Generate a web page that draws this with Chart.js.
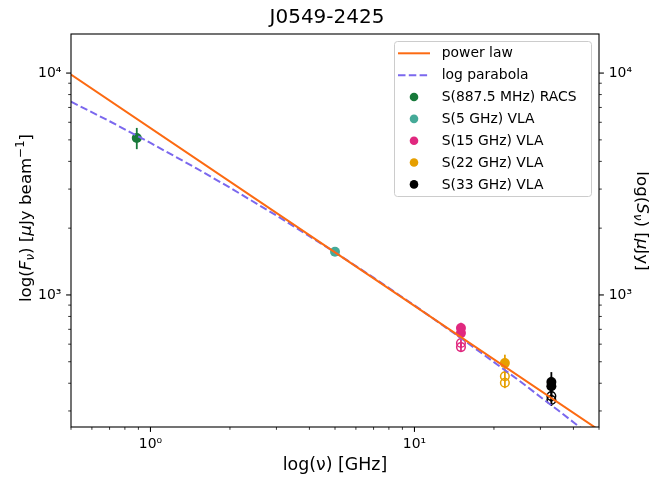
<!DOCTYPE html>
<html><head><meta charset="utf-8">
<script src="https://cdn.jsdelivr.net/npm/chart.js@4/dist/chart.umd.min.js"></script>
<style>html,body{margin:0;padding:0;background:#fff;}</style>
</head><body>
<canvas id="c" width="654" height="482"></canvas>
<script>
// ---------- data ----------
const chartTitle = 'J0549-2425';
const xLimits = [0.5, 50];
const yLimits = [254, 15000];
const xTickValues = [0.5,0.6,0.7,0.8,0.9,1,2,3,4,5,6,7,8,9,10,20,30,40,50];
const yTickValues = [300,400,500,600,700,800,900,1000,2000,3000,4000,5000,6000,7000,8000,9000,10000];
const majorTickValues = [1, 10, 1000, 10000];
const majorTickLabels = ['10⁰', '10¹', '10³', '10⁴'];

const powerLawNu = [0.5, 5, 50];
const powerLawS  = [9840, 1556, 246];
const logParNu = [0.5, 0.7, 1, 1.5, 2, 3, 5, 7, 10, 15, 20, 25, 30, 35, 40, 50];
const logParS  = [7430, 6066, 4845, 3709, 3045, 2280, 1556, 1196, 897, 639, 498, 410, 347, 302, 267, 216];

const racsNu = [0.8875], racsS = [5100], racsErr = [560];
const vla5Nu = [5], vla5S = [1565], vla5Err = [40];
const vla15Nu = [15, 15], vla15S = [710, 673], vla15Err = [40, 40];
const vla15OpenS = [607, 582], vla15OpenErr = [25, 25];
const vla22Nu = [22], vla22S = [493], vla22Err = [45];
const vla22OpenNu = [22, 22], vla22OpenS = [430, 402], vla22OpenErr = [22, 22];
const vla33Nu = [33, 33], vla33S = [405, 388], vla33Err = [44, 40];
const vla33OpenS = [350, 336], vla33OpenErr = [20, 20];

const seriesLabels = ['power law', 'log parabola', 'S(887.5 MHz) RACS', 'S(5 GHz) VLA', 'S(15 GHz) VLA', 'S(22 GHz) VLA', 'S(33 GHz) VLA'];
const xTitle = 'log(ν) [GHz]';
const yLeftTitle = [{t:'log('},{t:'F',it:1},{t:'ν',it:1,sub:1},{t:') ['},{t:'μ',it:1},{t:'Jy beam'},{t:'−1',sup:1},{t:']'}];
const yRightTitle = [{t:'log('},{t:'S',it:1},{t:'ν',it:1,sub:1},{t:') ['},{t:'μ',it:1},{t:'Jy]'}];

const C = {pl:'#fc6a12', lp:'#7b68ee', racs:'#17793a', v5:'#45aa98', v15:'#e0287f', v22:'#e69f00', v33:'#000000'};
const FONT = '"DejaVu Sans", sans-serif';

function pts(nu, s) { return s.map((v, i) => ({x: nu[i % nu.length], y: v})); }
function filled(label, nu, s, err, col, legend) {
  return {type:'scatter', label, data: pts(nu, s), errors: err, legendShow: legend, order: 2,
    pointRadius: 5, pointBackgroundColor: col, pointBorderColor: col, pointBorderWidth: 0, color: col, borderColor: col, backgroundColor: col};
}
function open(label, nu, s, err, col) {
  return {type:'scatter', label, data: pts(nu, s), errors: err, legendShow: false, order: 2,
    pointRadius: 4.3, pointBackgroundColor: 'rgba(0,0,0,0)', pointBorderColor: col, pointBorderWidth: 1.5, borderColor: col, backgroundColor: col};
}

const datasets = [
  {type:'line', label: seriesLabels[0], data: pts(powerLawNu, powerLawS), borderColor: C.pl, borderWidth: 2, pointRadius: 0, legendShow: true, order: 0},
  {type:'line', label: seriesLabels[1], data: pts(logParNu, logParS), borderColor: C.lp, borderWidth: 2, borderDash: [7.5, 3.3], pointRadius: 0, legendShow: true, order: 0},
  filled(seriesLabels[2], racsNu, racsS, racsErr, C.racs, true),
  filled(seriesLabels[3], vla5Nu, vla5S, vla5Err, C.v5, true),
  filled(seriesLabels[4], vla15Nu, vla15S, vla15Err, C.v15, true),
  filled(seriesLabels[5], vla22Nu, vla22S, vla22Err, C.v22, true),
  filled(seriesLabels[6], vla33Nu, vla33S, vla33Err, C.v33, true),
  open(seriesLabels[4] + ' (open)', vla15Nu, vla15OpenS, vla15OpenErr, C.v15),
  open(seriesLabels[5] + ' (open)', vla22OpenNu, vla22OpenS, vla22OpenErr, C.v22),
  open(seriesLabels[6] + ' (open)', vla33Nu, vla33OpenS, vla33OpenErr, C.v33),
];

function tickLabel(v) { const i = majorTickValues.indexOf(v); return i >= 0 ? majorTickLabels[i] : ''; }
function setTicks(list) { return (scale) => { scale.ticks = list.map(v => ({value: v, major: majorTickValues.includes(v)})); }; }

function fontFor(p, size) { const s = (p.sub || p.sup) ? size * 0.7 : size; return (p.it ? 'italic ' : '') + s + 'px ' + FONT; }
function drawRich(ctx, parts, x, y, rot, size) {
  ctx.save(); ctx.translate(x, y); ctx.rotate(rot);
  let w = 0; parts.forEach(p => { ctx.font = fontFor(p, size); w += ctx.measureText(p.t).width; });
  let cx = -w / 2;
  ctx.textBaseline = 'alphabetic'; ctx.textAlign = 'left'; ctx.fillStyle = '#000';
  parts.forEach(p => { ctx.font = fontFor(p, size); const dy = p.sub ? size * 0.2 : (p.sup ? -size * 0.4 : 0); ctx.fillText(p.t, cx, dy); cx += ctx.measureText(p.t).width; });
  ctx.restore();
}

const decor = {
  id: 'decor',
  beforeDatasetsDraw(chart) {
    const {ctx, chartArea: a} = chart; const xs = chart.scales.x, ys = chart.scales.y;
    ctx.save(); ctx.beginPath(); ctx.rect(a.left, a.top, a.right - a.left, a.bottom - a.top); ctx.clip();
    chart.data.datasets.forEach(ds => {
      if (!ds.errors) return;
      ctx.strokeStyle = ds.borderColor; ctx.lineWidth = 1.8;
      ds.data.forEach((p, i) => {
        const e = ds.errors[i]; const px = xs.getPixelForValue(p.x);
        ctx.beginPath(); ctx.moveTo(px, ys.getPixelForValue(p.y + e)); ctx.lineTo(px, ys.getPixelForValue(p.y - e)); ctx.stroke();
      });
    });
    ctx.restore();
  },
  afterDatasetsDraw(chart) {
    const {ctx, chartArea: a} = chart; const xs = chart.scales.x, ys = chart.scales.y;
    ctx.save();
    ctx.strokeStyle = '#000'; ctx.lineWidth = 1.1;
    ctx.strokeRect(a.left, a.top, a.right - a.left, a.bottom - a.top);
    xTickValues.forEach(v => {
      const maj = majorTickValues.includes(v); const px = xs.getPixelForValue(v);
      ctx.lineWidth = maj ? 1.1 : 0.8; ctx.beginPath(); ctx.moveTo(px, a.bottom); ctx.lineTo(px, a.bottom + (maj ? 4.9 : 2.8)); ctx.stroke();
    });
    yTickValues.forEach(v => {
      const maj = majorTickValues.includes(v); const py = ys.getPixelForValue(v); const L = maj ? 4.9 : 2.8;
      ctx.lineWidth = maj ? 1.1 : 0.8;
      ctx.beginPath(); ctx.moveTo(a.left, py); ctx.lineTo(a.left - L, py); ctx.stroke();
      ctx.beginPath(); ctx.moveTo(a.right, py); ctx.lineTo(a.right + L, py); ctx.stroke();
    });
    // legend
    const lx = 394.5, ly = 41.5, lw = 197, lh = 155;
    ctx.fillStyle = 'rgba(255,255,255,0.8)'; ctx.strokeStyle = '#cccccc'; ctx.lineWidth = 1;
    ctx.beginPath(); ctx.roundRect(lx, ly, lw, lh, 3); ctx.fill(); ctx.stroke();
    const items = chart.data.datasets.filter(d => d.legendShow);
    ctx.font = '13.9px ' + FONT; ctx.textBaseline = 'middle'; ctx.textAlign = 'left';
    items.forEach((d, i) => {
      const cy = 53.3 + i * 21.85;
      if (d.type === 'line') {
        ctx.strokeStyle = d.borderColor; ctx.lineWidth = 2; ctx.setLineDash(d.borderDash || []);
        ctx.beginPath(); ctx.moveTo(398, cy); ctx.lineTo(430, cy); ctx.stroke(); ctx.setLineDash([]);
      } else {
        ctx.fillStyle = d.pointBackgroundColor; ctx.beginPath(); ctx.arc(414, cy, 4.3, 0, Math.PI * 2); ctx.fill();
      }
      ctx.fillStyle = '#000'; ctx.fillText(d.label, 441.7, cy + 0.5);
    });
    // y-axis titles
    drawRich(ctx, yLeftTitle, 31, 218, -Math.PI / 2, 16.7);
    drawRich(ctx, yRightTitle, 637, 221, Math.PI / 2, 16.7);
    ctx.restore();
  }
};

const tickFont = {family: FONT, size: 13.9};
new Chart(document.getElementById('c'), {
  data: {datasets},
  options: {
    responsive: false, animation: false, devicePixelRatio: 1, events: [],
    layout: {padding: 0},
    plugins: {
      legend: {display: false}, tooltip: {enabled: false},
      title: {display: true, text: chartTitle, color: '#000', font: {family: FONT, size: 20, weight: 'normal', lineHeight: 1.2}, padding: {top: 6, bottom: 4}}
    },
    scales: {
      x: {type: 'logarithmic', position: 'bottom', min: xLimits[0], max: xLimits[1],
        grid: {display: false, drawTicks: false}, border: {display: false},
        afterBuildTicks: setTicks(xTickValues), afterFit: s => { s.height = 55; },
        ticks: {autoSkip: false, maxRotation: 0, padding: 9, color: '#000', font: tickFont, callback: v => tickLabel(v)},
        title: {display: true, text: xTitle, color: '#000', font: {family: FONT, size: 17.4}, padding: {top: 0, bottom: 6}}},
      y: {type: 'logarithmic', position: 'left', min: yLimits[0], max: yLimits[1],
        grid: {display: false, drawTicks: false}, border: {display: false},
        afterBuildTicks: setTicks(yTickValues), afterFit: s => { s.width = 71; },
        ticks: {autoSkip: false, padding: 9.7, color: '#000', font: tickFont, callback: v => tickLabel(v)}},
      y2: {type: 'logarithmic', position: 'right', min: yLimits[0], max: yLimits[1],
        grid: {display: false, drawTicks: false}, border: {display: false},
        afterBuildTicks: setTicks(yTickValues), afterFit: s => { s.width = 55; },
        ticks: {autoSkip: false, padding: 9.7, color: '#000', font: tickFont, callback: v => tickLabel(v)}}
    }
  },
  plugins: [decor]
});
</script>
</body></html>
